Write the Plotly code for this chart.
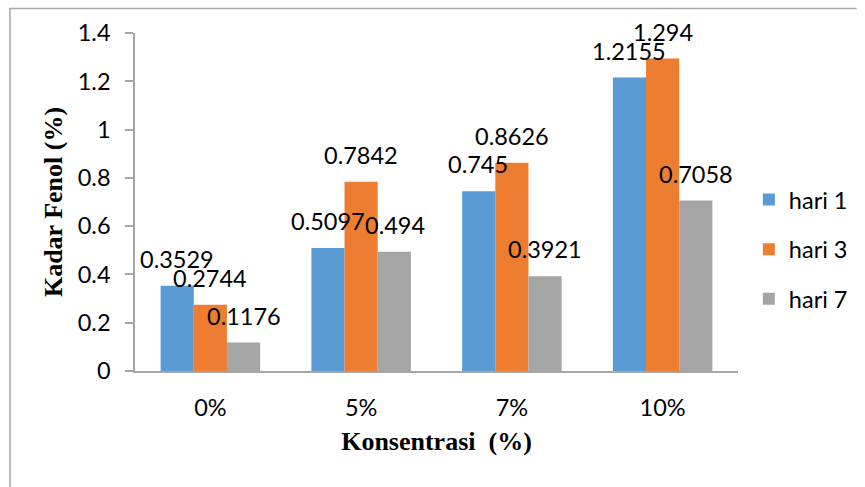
import plotly.graph_objects as go

categories = ["0%", "5%", "7%", "10%"]
series_names = ["hari 1", "hari 3", "hari 7"]
hari1 = [0.3529, 0.5097, 0.745, 1.2155]
hari3 = [0.2744, 0.7842, 0.8626, 1.294]
hari7 = [0.1176, 0.494, 0.3921, 0.7058]
colors = ["#5B9BD5", "#ED7D31", "#A5A5A5"]
y_ticks = [0, 0.2, 0.4, 0.6, 0.8, 1, 1.2, 1.4]

series = [hari1, hari3, hari7]
fig = go.Figure()
for i, (name, vals) in enumerate(zip(series_names, series)):
    fig.add_trace(go.Bar(
        x=categories, y=vals, name=name,
        marker=dict(color=colors[i], line=dict(width=0)),
        legendgroup=name,
    ))

W, H = 865, 487
L, R, T, B = 135, 120, 33, 116
plot_w = W - L - R
cat_w = plot_w / len(categories)
bargap = 0.34
bar_w = cat_w * (1 - bargap) / 3

annotations = []
for i, vals in enumerate(series):
    for c, v in zip(categories, vals):
        annotations.append(dict(
            x=c, y=v, xref="x", yref="y", text=str(v), showarrow=False,
            xshift=(i - 1) * bar_w, yshift=27, yanchor="middle", xanchor="center",
            font=dict(family="Lato", size=23.5, color="black"),
        ))

fig.update_layout(
    width=W, height=H,
    margin=dict(l=L, r=R, t=T, b=B),
    paper_bgcolor="white", plot_bgcolor="white",
    barmode="group", bargap=bargap, bargroupgap=0,
    font=dict(family="Lato", size=23.5, color="black"),
    showlegend=True,
    legend=dict(
        x=1.018, y=0.36, xanchor="left", yanchor="middle",
        font=dict(family="Lato", size=23.5, color="black"),
        tracegroupgap=16, bgcolor="rgba(0,0,0,0)",
    ),
    xaxis=dict(
        showline=True, linecolor="#A6A6A6", linewidth=1.5,
        ticks="", showgrid=False, ticklabelstandoff=15,
        tickfont=dict(family="Lato", size=23.5),
        title=dict(text="<b>Konsentrasi\u00a0\u00a0(%)</b>",
                   font=dict(family="Liberation Serif", size=26), standoff=12),
    ),
    yaxis=dict(
        range=[0, 1.4], tickvals=y_ticks, ticktext=[f"{t:g}" for t in y_ticks],
        showline=True, linecolor="#A6A6A6", linewidth=1.5,
        ticks="outside", ticklen=8, tickcolor="#A6A6A6", tickwidth=1.5,
        showgrid=False, zeroline=False, ticklabelstandoff=10,
        tickfont=dict(family="Lato", size=23.5),
        title=dict(text="<b>Kadar Fenol (%)</b>",
                   font=dict(family="Liberation Serif", size=26), standoff=8),
    ),
    annotations=annotations,
    shapes=[
        dict(type="line", xref="paper", yref="paper",
             x0=(8 - L) / plot_w, x1=(W - L) / plot_w,
             y0=1 + (T - 8.5) / (H - T - B), y1=1 + (T - 8.5) / (H - T - B),
             line=dict(color="#A6A6A6", width=1.5)),
        dict(type="line", xref="paper", yref="paper",
             x0=(8.5 - L) / plot_w, x1=(8.5 - L) / plot_w,
             y0=-(B) / (H - T - B), y1=1 + (T - 8) / (H - T - B),
             line=dict(color="#A6A6A6", width=1.5)),
    ],
)

fig.write_html("out.html")
